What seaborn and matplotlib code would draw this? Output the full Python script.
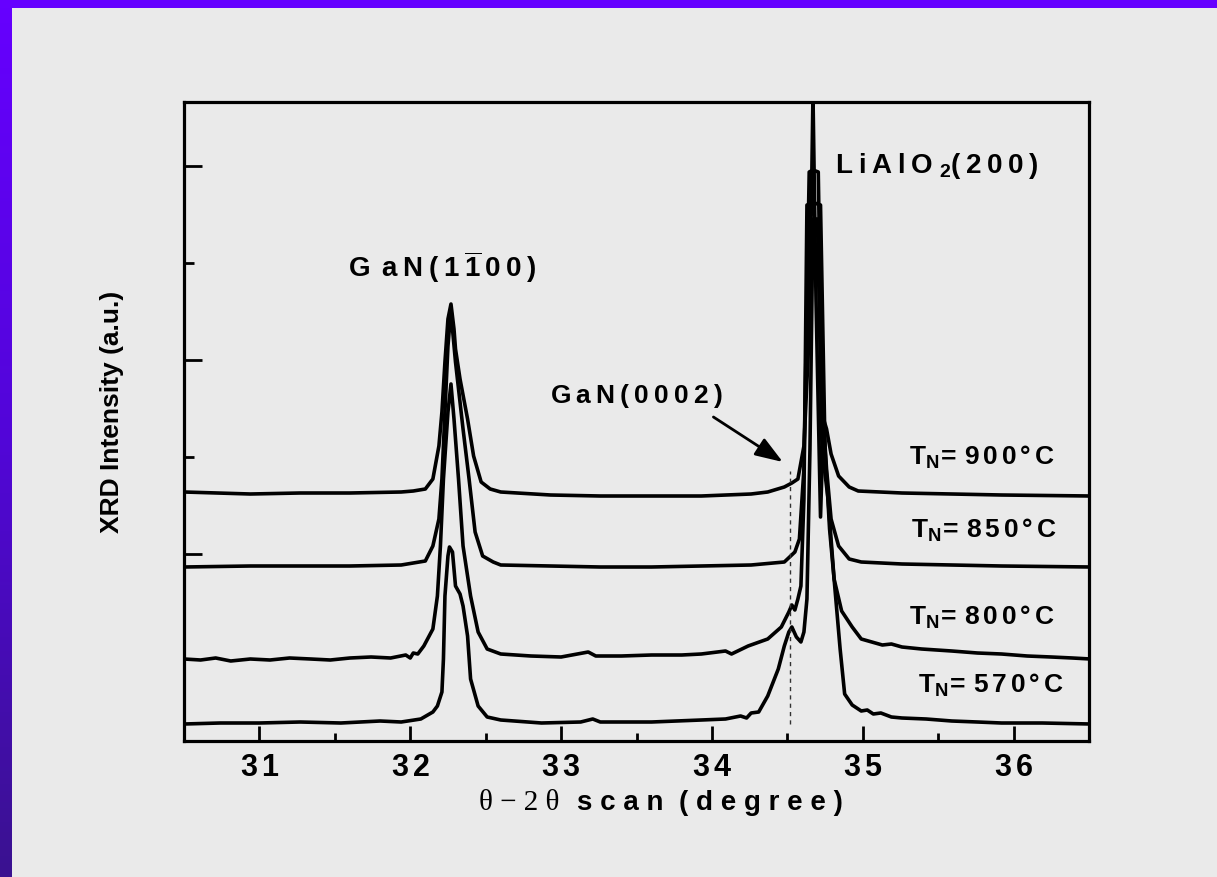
import numpy as np
import pandas as pd
import matplotlib
matplotlib.use("Agg")
import matplotlib.pyplot as plt
from matplotlib.patches import Rectangle
from matplotlib.colors import LinearSegmentedColormap
import seaborn as sns

# ---- XRD scans (2theta in degrees, intensity in a.u., curves stacked by nitridation temperature) ----
two_theta_900 = [30.50, 30.94, 31.27, 31.60, 31.94, 32.02, 32.10, 32.15, 32.19, 32.21,
                 32.23, 32.25, 32.27, 32.29, 32.30, 32.33, 32.38, 32.42, 32.47, 32.53,
                 32.60, 32.93, 33.26, 33.60, 33.93, 34.26, 34.37, 34.48, 34.53, 34.57,
                 34.61, 34.64, 34.66, 34.67, 34.69, 34.72, 34.74, 34.76, 34.79, 34.84,
                 34.91, 34.97, 35.26, 35.92, 36.51]
intensity_900 = [256, 254, 255, 255, 256, 257, 259, 269, 302, 336,
                 386, 429, 444, 419, 399, 369, 329, 292, 266, 259,
                 256, 253, 252, 252, 252, 254, 256, 261, 265, 269,
                 302, 399, 549, 654, 449, 231, 329, 319, 294, 272,
                 261, 257, 255, 253, 252]

two_theta_850 = [30.50, 30.94, 31.27, 31.60, 31.94, 32.10, 32.15, 32.19, 32.21, 32.23,
                 32.25, 32.27, 32.28, 32.30, 32.35, 32.39, 32.43, 32.48, 32.55, 32.60,
                 32.93, 33.26, 33.60, 33.93, 34.26, 34.48, 34.55, 34.58, 34.61, 34.645,
                 34.67, 34.705, 34.73, 34.76, 34.79, 34.84, 34.91, 34.99, 35.26, 35.92,
                 36.51]
intensity_850 = [181, 182, 182, 182, 183, 187, 202, 229, 269, 336,
                 402, 439, 419, 386, 319, 269, 216, 192, 186, 183,
                 182, 181, 181, 182, 183, 186, 196, 209, 279, 576,
                 578, 576, 349, 279, 229, 202, 189, 186, 184, 182,
                 181]

two_theta_800 = [30.50, 30.61, 30.71, 30.81, 30.94, 31.07, 31.20, 31.34, 31.47, 31.60,
                 31.74, 31.87, 31.97, 32.00, 32.02, 32.05, 32.09, 32.15, 32.18, 32.20,
                 32.22, 32.25, 32.27, 32.29, 32.32, 32.35, 32.40, 32.45, 32.51, 32.60,
                 32.80, 33.00, 33.18, 33.23, 33.40, 33.60, 33.80, 33.93, 34.09, 34.13,
                 34.24, 34.37, 34.46, 34.51, 34.53, 34.55, 34.57, 34.59, 34.61, 34.63,
                 34.68, 34.72, 34.75, 34.78, 34.81, 34.86, 34.93, 34.99, 35.06, 35.13,
                 35.19, 35.26, 35.39, 35.59, 35.76, 35.92, 36.09, 36.25, 36.39, 36.51]
intensity_800 = [89, 88, 90, 87, 89, 88, 90, 89, 88, 90,
                 91, 90, 93, 90, 95, 94, 102, 119, 152, 202,
                 269, 336, 364, 329, 269, 202, 152, 116, 99, 94,
                 92, 91, 96, 92, 92, 93, 93, 94, 97, 94,
                 102, 109, 121, 136, 143, 138, 149, 162, 249, 543,
                 545, 543, 299, 219, 169, 137, 121, 109, 106, 103,
                 104, 101, 99, 97, 95, 94, 92, 91, 90, 89]

two_theta_570 = [30.50, 30.74, 31.00, 31.27, 31.54, 31.80, 31.94, 32.07, 32.15, 32.18,
                 32.21, 32.22, 32.23, 32.25, 32.26, 32.28, 32.30, 32.33, 32.35, 32.38,
                 32.40, 32.45, 32.51, 32.60, 32.87, 33.13, 33.21, 33.26, 33.60, 33.93,
                 34.09, 34.19, 34.23, 34.26, 34.31, 34.37, 34.44, 34.48, 34.51, 34.53,
                 34.56, 34.59, 34.61, 34.63, 34.65, 34.67, 34.70, 34.73, 34.77,
                 34.81, 34.85, 34.88, 34.93, 34.97, 34.99, 35.03, 35.07, 35.12, 35.19,
                 35.26, 35.42, 35.59, 35.76, 35.92, 36.19, 36.51]
intensity_570 = [24, 25, 25, 26, 25, 27, 26, 29, 36, 42,
                 56, 89, 152, 192, 201, 196, 162, 154, 142, 112,
                 69, 42, 31, 28, 25, 26, 29, 26, 26, 28,
                 29, 32, 30, 35, 36, 52, 79, 102, 116, 121,
                 111, 106, 116, 149, 299, 529, 529, 299, 249,
                 169, 99, 54, 43, 39, 37, 38, 34, 35, 31,
                 30, 29, 27, 26, 25, 25, 24]

samples = ["900", "850", "800", "570"]
label_x = [35.79, 35.80, 35.79, 35.85]
label_y = [284, 211, 124, 56]
x_ticks = [31, 32, 33, 34, 35, 36]
x_minor_ticks = [31.5, 32.5, 33.5, 34.5, 35.5]
gan_0002_position = 34.52

scans = pd.concat([
    pd.DataFrame({"two_theta": two_theta_900, "intensity": intensity_900, "sample": "900"}),
    pd.DataFrame({"two_theta": two_theta_850, "intensity": intensity_850, "sample": "850"}),
    pd.DataFrame({"two_theta": two_theta_800, "intensity": intensity_800, "sample": "800"}),
    pd.DataFrame({"two_theta": two_theta_570, "intensity": intensity_570, "sample": "570"}),
], ignore_index=True)

# ---- style ----
BG = "#eaeaea"
sns.set_theme(style="white")
plt.rcParams.update({
    "font.family": ["Liberation Sans", "DejaVu Sans"],
    "font.weight": "bold",
    "mathtext.fontset": "custom",
    "mathtext.rm": "Liberation Sans:bold",
    "mathtext.bf": "Liberation Sans:bold",
    "mathtext.it": "Liberation Sans:bold",
    "mathtext.sf": "Liberation Sans:bold",
    "figure.facecolor": BG,
    "axes.facecolor": BG,
    "text.color": "black",
    "axes.labelcolor": "black",
    "xtick.color": "black",
    "ytick.color": "black",
})

W, H = 1217, 878
fig = plt.figure(figsize=(W / 100, H / 100), dpi=100)
ax = fig.add_axes([184 / W, 1 - 742 / H, (1089 - 184) / W, (742 - 103) / H])

sns.lineplot(data=scans, x="two_theta", y="intensity", units="sample", estimator=None,
             sort=False, color="black", linewidth=2.6, ax=ax, legend=False)

ax.set_xlim(30.5, 36.5)
ax.set_ylim(7, 646)

# frame and ticks
for side in ["left", "right", "top", "bottom"]:
    ax.spines[side].set_visible(True)
    ax.spines[side].set_color("black")
    ax.spines[side].set_linewidth(2.3)

ax.set_xticks(x_ticks)
ax.set_xticks(x_minor_ticks, minor=True)
ax.set_xticklabels([r"$\mathbf{%s\,%s}$" % (str(t)[0], str(t)[1]) for t in x_ticks])
ax.set_yticks([194, 388, 582])
ax.set_yticks([291, 485], minor=True)
ax.set_yticklabels([])
ax.tick_params(axis="x", which="major", direction="in", length=11, width=2,
               color="black", labelcolor="black", labelsize=22, pad=8,
               bottom=True, top=False)
ax.tick_params(axis="x", which="minor", direction="in", length=6, width=2,
               color="black", bottom=True, top=False)
ax.tick_params(axis="y", which="major", direction="in", length=13, width=2,
               color="black", left=True, right=False, labelleft=False)
ax.tick_params(axis="y", which="minor", direction="in", length=7, width=2,
               color="black", left=True, right=False)
ax.set_xlabel("")
ax.set_ylabel("")

# GaN(0002) position marker
ax.plot([gan_0002_position, gan_0002_position], [24, 277], color="#333333",
        linewidth=1.0, linestyle=(0, (3, 3)))

# peak labels
ax.text(32.21, 472, r"$\mathbf{G\;\:a\:N\:(\:1\:\overline{1}\:0\:0\:)}$", ha="center",
        va="baseline", fontsize=20)
ax.text(35.49, 576, r"$\mathbf{L\;i\:A\:l\:O\;{}_2(\:2\:0\:0\:)}$", ha="center",
        va="baseline", fontsize=20)
ax.text(33.50, 346, r"$\mathbf{G\:a\:N\:(\:0\:0\:0\:2\:)}$", ha="center",
        va="baseline", fontsize=19)
ax.annotate("", xy=(34.47, 286), xytext=(34.01, 331),
            arrowprops=dict(arrowstyle="-|>,head_length=1.4,head_width=0.5",
                            color="black", lw=2, shrinkA=0, shrinkB=0))

for s, lx, ly in zip(samples, label_x, label_y):
    ax.text(lx, ly, r"$\mathbf{T_N\!=\,%s\,%s\,%s\,°\,C}$" % (s[0], s[1], s[2]),
            ha="center", va="baseline", fontsize=19)

# axis titles
fig.text(112 / W, 1 - 412 / H, "XRD Intensity (a.u.)", rotation=90, ha="center",
         va="center", fontsize=19, fontweight="bold", color="black")
fig.text(559 / W, 1 - 810 / H, "θ − 2 θ", ha="right", va="baseline", fontsize=21,
         family=["Liberation Serif", "DejaVu Serif"], fontweight="normal", color="black")
fig.text(577 / W, 1 - 810 / H, "s c a n  ( d e g r e e )", ha="left", va="baseline",
         fontsize=20, fontweight="bold", color="black")

# slide border
fig.patches.append(Rectangle((0, 1 - 9 / H), 1, 9 / H, transform=fig.transFigure,
                             facecolor="#6600ff", edgecolor="none", zorder=5))
band = fig.add_axes([0, 0, 12 / W, 1])
band_cmap = LinearSegmentedColormap.from_list("band", ["#6600ff", "#5206d8", "#3a1290"])
band.imshow(np.linspace(0, 1, 256).reshape(-1, 1), aspect="auto", cmap=band_cmap,
            extent=[0, 1, 0, 1])
band.set_axis_off()

fig.savefig("out.png", dpi=100, facecolor=BG)
